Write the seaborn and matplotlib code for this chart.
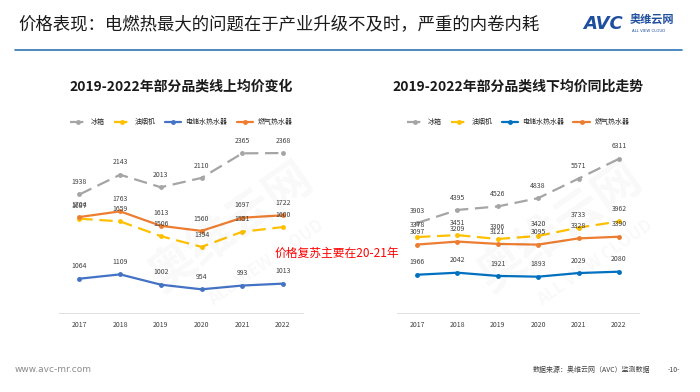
import numpy as np
import pandas as pd
import matplotlib
matplotlib.use("Agg")
import matplotlib.pyplot as plt
import seaborn as sns

sns.set_style("white")
plt.rcParams['font.family'] = ['Noto Sans CJK SC', 'DejaVu Sans']

years = ["2017", "2018", "2019", "2020", "2021", "2022"]
cats = ["冰箱", "油烟机", "电储水热水器", "燃气热水器"]

# 线上均价
online_fridge = [1938, 2143, 2013, 2110, 2365, 2368]
online_hood = [1687, 1659, 1506, 1394, 1551, 1600]
online_elec = [1064, 1109, 1002, 954, 993, 1013]
online_gas = [1704, 1763, 1613, 1560, 1697, 1722]

# 线下均价
offline_fridge = [3903, 4395, 4526, 4838, 5571, 6311]
offline_hood = [3378, 3451, 3306, 3420, 3733, 3962]
offline_elec = [1966, 2042, 1921, 1893, 2029, 2080]
offline_gas = [3097, 3209, 3121, 3095, 3328, 3390]

left_colors = ["#A5A5A5", "#FFC000", "#4472C4", "#ED7D31"]
right_colors = ["#A5A5A5", "#FFC000", "#0070C0", "#ED7D31"]


def to_long(series):
    rows = []
    for c, vals in zip(cats, series):
        for y, v in zip(years, vals):
            rows.append({"year": y, "price": v, "cat": c})
    return pd.DataFrame(rows)


def draw(ax, series, colors, ylim, title):
    df = to_long(series)
    sns.lineplot(data=df, x="year", y="price", hue="cat", style="cat",
                 palette=dict(zip(cats, colors)),
                 dashes={cats[0]: (6, 3), cats[1]: (6, 3), cats[2]: "", cats[3]: ""},
                 markers={c: "o" for c in cats}, markersize=3.5, markeredgewidth=0,
                 linewidth=1.6, ax=ax)
    for c, vals in zip(cats, series):
        for i, v in enumerate(vals):
            ax.annotate(str(v), (i, v), xytext=(0, 6), textcoords="offset points",
                        ha="center", va="bottom", fontsize=5, color="#404040")
    ax.set_ylim(*ylim)
    ax.set_xlim(-0.5, 5.5)
    ax.set_xlabel("")
    ax.set_ylabel("")
    ax.set_yticks([])
    ax.tick_params(axis="x", labelsize=5, colors="#404040", length=0, pad=6)
    for s in ["top", "right", "left"]:
        ax.spines[s].set_visible(False)
    ax.spines["bottom"].set_color("#D9D9D9")
    ax.spines["bottom"].set_linewidth(0.6)
    h, l = ax.get_legend_handles_labels()
    ax.legend(h, l, ncol=4, loc="center", bbox_to_anchor=(0.5, 1.105),
              frameon=False, fontsize=5, handlelength=2.4, columnspacing=1.3,
              handletextpad=0.6)
    ax.text(0.5, 1.31, title, transform=ax.transAxes, ha="center", va="center",
            fontsize=10, fontweight="bold", color="#1a1a1a")


fig = plt.figure(figsize=(7, 3.92), dpi=100)

# watermarks
for x0 in [0.33, 0.8]:
    fig.text(x0, 0.42, "奥维云网", fontsize=34, fontweight="bold", color="#000000",
             alpha=0.028, rotation=35, ha="center", va="center")
    fig.text(x0 + 0.05, 0.33, "ALL VIEW CLOUD", fontsize=12, fontweight="bold",
             color="#000000", alpha=0.028, rotation=35, ha="center", va="center")

ax1 = fig.add_axes([0.0843, 0.2015, 0.349, 0.441])
ax2 = fig.add_axes([0.567, 0.2015, 0.346, 0.441])

draw(ax1, [online_fridge, online_hood, online_elec, online_gas], left_colors,
     (708, 2502), "2019-2022年部分品类线上均价变化")
draw(ax2, [offline_fridge, offline_hood, offline_elec, offline_gas], right_colors,
     (531, 7011), "2019-2022年部分品类线下均价同比走势")

fig.text(275 / 700, 1 - 253 / 392, "价格复苏主要在20-21年", color="#FF0000",
         fontsize=8.5, ha="left", va="center")

# header
fig.text(18 / 700, 1 - 25 / 392, "价格表现：电燃热最大的问题在于产业升级不及时，严重的内卷内耗",
         fontsize=12.5, ha="left", va="center", color="#1a1a1a")
fig.add_artist(plt.Line2D([15 / 700, 682 / 700], [1 - 50 / 392, 1 - 50 / 392],
                          color="#2E75B6", linewidth=1.2))
fig.text(583 / 700, 1 - 24 / 392, "AVC", fontsize=13, fontweight="bold", fontstyle="italic",
         color="#1F4E9E", ha="left", va="center", family=["DejaVu Sans"])
fig.text(630 / 700, 1 - 20 / 392, "奥维云网", fontsize=8, fontweight="bold",
         color="#1F4E9E", ha="left", va="center")
fig.text(632 / 700, 1 - 31 / 392, "ALL VIEW CLOUD", fontsize=2.8,
         color="#1F4E9E", ha="left", va="center", family=["DejaVu Sans"])

# footer
fig.text(15 / 700, 1 - 370 / 392, "www.avc-mr.com", fontsize=6.5, color="#8c8c8c",
         ha="left", va="center", family=["DejaVu Sans"])
fig.text(650 / 700, 1 - 370 / 392, "数据来源：奥维云网（AVC）监测数据", fontsize=5,
         color="#404040", ha="right", va="center")
fig.text(680 / 700, 1 - 370 / 392, "-10-", fontsize=5, color="#404040",
         ha="right", va="center")

fig.savefig("out.png", dpi=100)
